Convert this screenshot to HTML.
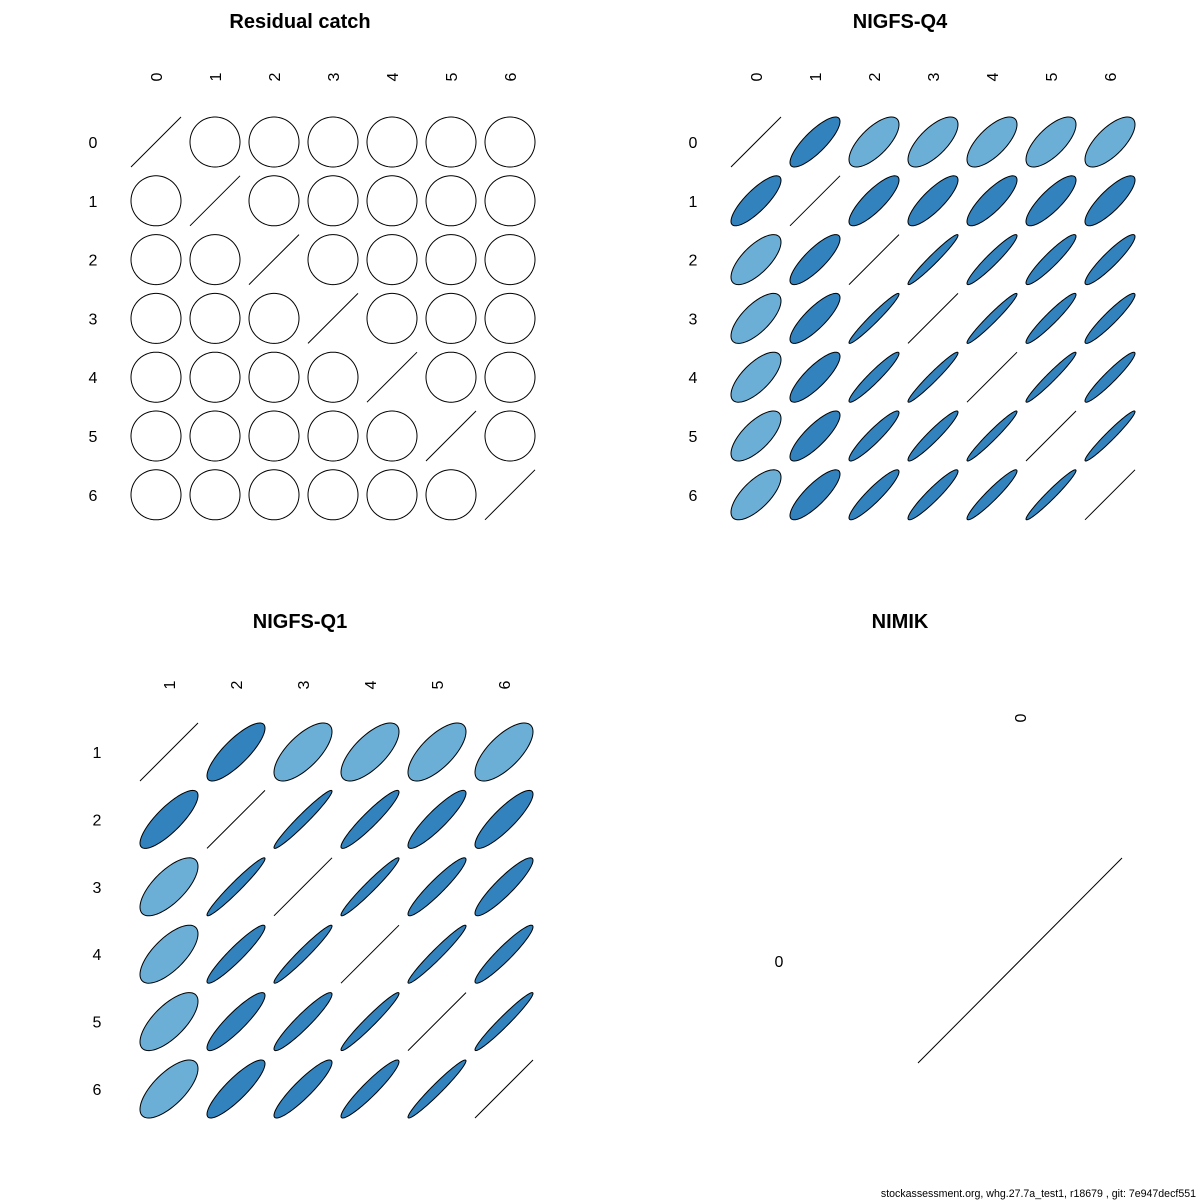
<!DOCTYPE html>
<html><head><meta charset="utf-8"><style>
html,body{margin:0;padding:0;background:#fff}
svg{display:block}
text{font-family:"Liberation Sans",sans-serif;fill:#000}
</style></head><body>
<svg id="s" width="1200" height="1200" xmlns="http://www.w3.org/2000/svg">
<text x="300" y="28" font-size="20" font-weight="bold" text-anchor="middle">Residual catch</text>
<text x="900" y="28" font-size="20" font-weight="bold" text-anchor="middle">NIGFS-Q4</text>
<text x="300" y="628" font-size="20" font-weight="bold" text-anchor="middle">NIGFS-Q1</text>
<text x="900" y="628" font-size="20" font-weight="bold" text-anchor="middle">NIMIK</text>
<line x1="918" y1="1063" x2="1122" y2="858" stroke="#000" stroke-width="1"/>
<text x="779" y="967" font-size="16" text-anchor="middle">0</text>
<text transform="translate(1026,718) rotate(-90)" font-size="16" text-anchor="middle">0</text>
<text x="1196" y="1197" font-size="10.6" text-anchor="end">stockassessment.org, whg.27.7a_test1, r18679 , git: 7e947decf551</text>
</svg>
<script>
var s=document.getElementById('s'),NS='http://www.w3.org/2000/svg';
function el(n,a,t){var e=document.createElementNS(NS,n);for(var k in a)e.setAttribute(k,a[k]);if(t!=null)e.textContent=t;s.appendChild(e);return e;}
function panel(labels,x0,dx,y0,dy,h,R,labX,labY){
 var n=labels.length;
 for(var i=0;i<n;i++){
  el('text',{transform:'translate('+(x0+i*dx+6)+','+labY+') rotate(-90)','font-size':16,'text-anchor':'middle'},labels[i]);
  el('text',{x:labX,y:y0+i*dy+6,'font-size':16,'text-anchor':'middle'},labels[i]);
 }
 for(var i=0;i<n;i++)for(var j=0;j<n;j++){
  var cx=x0+j*dx,cy=y0+i*dy;
  if(i==j){el('line',{x1:cx-h,y1:cy+h,x2:cx+h,y2:cy-h,stroke:'#000','stroke-width':1});continue;}
  var r=R(i,j),d=Math.acos(r),p=[];
  for(var k=0;k<100;k++){var t=2*Math.PI*k/100;p.push((cx+h*Math.cos(t+d/2)).toFixed(2)+','+(cy-h*Math.cos(t-d/2)).toFixed(2));}
  var fill=r==0?'none':(r<0.76?'#6BAED6':'#3182BD');
  el('polygon',{points:p.join(' '),fill:fill,stroke:'#000','stroke-width':1});
 }
}
panel(['0','1','2','3','4','5','6'],156,59,142,58.8,25,function(){return 0},93,77);
var q4={'01':0.82,'23':0.97,'24':0.95,'25':0.93,'26':0.92,'34':0.97,'35':0.95,'36':0.94,'45':0.97,'46':0.95,'56':0.97};
panel(['0','1','2','3','4','5','6'],756,59,142,58.8,25,function(i,j){var a=Math.min(i,j),b=Math.max(i,j);var k=''+a+b;if(q4[k])return q4[k];if(a==0)return 0.7;if(a==1)return 0.83;return 0.95},693,77);
var q1={'01':0.82,'12':0.97,'13':0.94,'14':0.9,'15':0.87,'23':0.97,'24':0.94,'25':0.91,'34':0.97,'35':0.94,'45':0.97};
panel(['1','2','3','4','5','6'],169,67,752,67.4,29,function(i,j){var a=Math.min(i,j),b=Math.max(i,j);var k=''+a+b;if(q1[k])return q1[k];if(a==0)return 0.7;return 0.93},97,685);
</script>
</body></html>
